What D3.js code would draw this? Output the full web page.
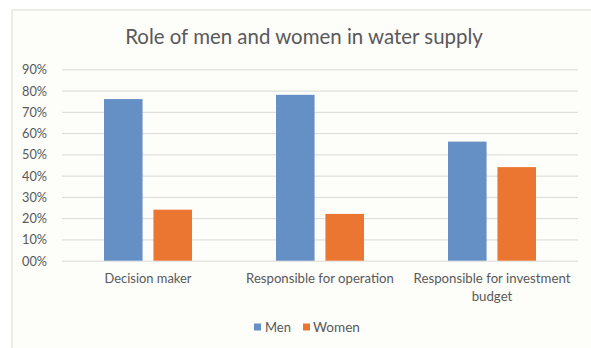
<!DOCTYPE html>
<html>
<head>
<meta charset="utf-8">
<script src="https://cdn.jsdelivr.net/npm/d3@7"></script>
<style>
  html, body { margin: 0; padding: 0; background: #ffffff; }
  svg { display: block; font-family: Lato, "Open Sans", sans-serif; }
</style>
</head>
<body>
<svg id="chart" width="591" height="348"></svg>
<script>
// Chart data
const title = "Role of men and women in water supply";
const categories = ["Decision maker", "Responsible for operation", "Responsible for investment budget"];
const seriesNames = ["Men", "Women"];
const menValues = [0.76, 0.78, 0.56];
const womenValues = [0.24, 0.22, 0.44];
const yTicks = [0, 0.1, 0.2, 0.3, 0.4, 0.5, 0.6, 0.7, 0.8, 0.9];
const yTickLabels = ["00%", "10%", "20%", "30%", "40%", "50%", "60%", "70%", "80%", "90%"];
const colors = ["#6590c5", "#ea7631"];

const seriesValues = [menValues, womenValues];
const svg = d3.select("#chart");

// Chart frame
svg.append("rect").attr("x", 12).attr("y", 10).attr("width", 591).attr("height", 350)
  .attr("fill", "#fdfdfa").attr("stroke", "#e6e6e2").attr("stroke-width", 1.5);

const plot = { left: 62, right: 578, top: 69.3, bottom: 260.7 };

const y = d3.scaleLinear().domain([0, 0.9]).range([plot.bottom, plot.top]);
const x0 = d3.scaleBand().domain(categories).range([plot.left, plot.right]).padding(0);
const groupWidth = 88;
const x1 = d3.scaleBand().domain(seriesNames)
  .range([(x0.bandwidth() - groupWidth) / 2, (x0.bandwidth() + groupWidth) / 2])
  .paddingInner(0.22).paddingOuter(0);

// Fit a text element's width to a target by adjusting its font size
function fitWidth(sel, target) {
  const node = sel.node();
  const fs = parseFloat(sel.attr("font-size"));
  const w = node.getComputedTextLength();
  if (w > 0) sel.attr("font-size", (fs * target / w).toFixed(2));
  return sel;
}

// Gridlines
const yAxis = d3.axisLeft(y).tickValues(yTicks)
  .tickFormat((d, i) => yTickLabels[i])
  .tickSize(-(plot.right - plot.left)).tickPadding(15);
const gy = svg.append("g").attr("transform", `translate(${plot.left},0)`).call(yAxis);
gy.select(".domain").remove();
gy.selectAll(".tick line").attr("stroke", "#d9d9d9").attr("stroke-width", 1);
gy.selectAll(".tick text").attr("fill", "#595959").attr("font-size", 13)
  .attr("font-family", "Lato, sans-serif").attr("dy", "0.35em")
  .each(function () { fitWidth(d3.select(this), 25); });

// Bars
const groups = svg.append("g").selectAll("g").data(categories).join("g")
  .attr("transform", d => `translate(${x0(d)},0)`);
groups.selectAll("rect")
  .data((c, ci) => seriesNames.map((s, si) => ({ s, v: seriesValues[si][ci], si })))
  .join("rect")
  .attr("x", d => x1(d.s))
  .attr("width", x1.bandwidth())
  .attr("y", d => y(d.v))
  .attr("height", d => y(0) - y(d.v))
  .attr("fill", d => colors[d.si]);

// Category labels
const catWidths = [87, 148, 157];
const catLabels = svg.append("g");
categories.forEach((c, i) => {
  const cx = x0(c) + x0.bandwidth() / 2;
  let lines = [c];
  if (c === "Responsible for investment budget") lines = ["Responsible for investment", "budget"];
  const t = catLabels.append("text").attr("x", cx).attr("y", 283)
    .attr("text-anchor", "middle").attr("fill", "#595959").attr("font-size", 13);
  const first = t.append("tspan").attr("x", cx).text(lines[0]);
  const w = first.node().getComputedTextLength();
  t.attr("font-size", (13 * catWidths[i] / w).toFixed(2));
  lines.slice(1).forEach(l => t.append("tspan").attr("x", cx).attr("dy", 17.5).text(l));
});

// Legend
const legend = svg.append("g");
const legendItems = [{ x: 254, tx: 265, w: 26 }, { x: 303, tx: 313, w: 47 }];
seriesNames.forEach((s, i) => {
  legend.append("rect").attr("x", legendItems[i].x).attr("y", 323.5)
    .attr("width", 7).attr("height", 7).attr("fill", colors[i]);
  const t = legend.append("text").attr("x", legendItems[i].tx).attr("y", 331.5)
    .attr("fill", "#595959").attr("font-size", 14).text(s);
  fitWidth(t, legendItems[i].w);
});

// Title
const tt = svg.append("text").attr("x", 304).attr("y", 44)
  .attr("text-anchor", "middle").attr("fill", "#595959").attr("font-size", 21).text(title);
fitWidth(tt, 358);
</script>
</body>
</html>
